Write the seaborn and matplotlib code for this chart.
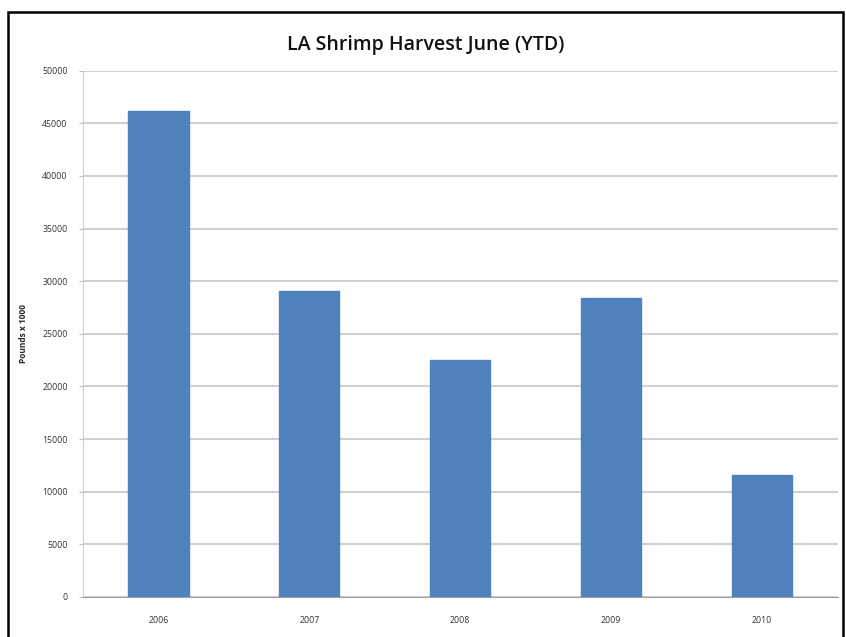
import matplotlib
matplotlib.use("Agg")
import matplotlib.pyplot as plt
import seaborn as sns
import pandas as pd
from matplotlib.patches import Rectangle

# data
years = ["2006", "2007", "2008", "2009", "2010"]
pounds = [46200, 29100, 22500, 28400, 11600]
yticks = list(range(0, 50001, 5000))

df = pd.DataFrame({"year": years, "pounds": pounds})

sns.set_style("white")
plt.rcParams["font.family"] = ["Open Sans", "DejaVu Sans"]

fig = plt.figure(figsize=(8.46, 6.37), dpi=100)
ax = fig.add_axes([0.098, 0.063, 0.892, 0.826])

sns.barplot(data=df, x="year", y="pounds", color="#4F81BD", saturation=1,
            width=0.4, ax=ax, zorder=3, edgecolor="#4F81BD")

ax.set_ylim(0, 50000)
ax.set_yticks(yticks)
ax.set_yticklabels([str(t) for t in yticks], fontsize=6.3, color="#333333")
ax.set_xticklabels(years, fontsize=6.3, color="#333333")
ax.tick_params(axis="x", pad=14, length=0)
ax.tick_params(axis="y", pad=8, length=3, color="#bbbbbb", left=True)
ax.yaxis.grid(True, color="#d0d0d0", linewidth=1.5, zorder=0)
ax.set_axisbelow(True)

for s in ["top", "right"]:
    ax.spines[s].set_visible(False)
ax.spines["left"].set_color("#d0d0d0")
ax.spines["bottom"].set_color("#a0a0a0")

ax.set_xlabel("")
ax.set_ylabel("Pounds x 1000", fontsize=6, fontweight="bold", labelpad=10)
fig.text(0.503, 0.93, "LA Shrimp Harvest June (YTD)", ha="center", va="center",
         fontsize=14, fontweight="semibold", color="#111111")

# outer frame around the chart (bottom edge cut off)
fig.patches.append(Rectangle((0.0095, -0.05), 0.987, 1.031, transform=fig.transFigure,
                             fill=False, edgecolor="black", linewidth=1.8))

fig.savefig("out.png", dpi=100)
